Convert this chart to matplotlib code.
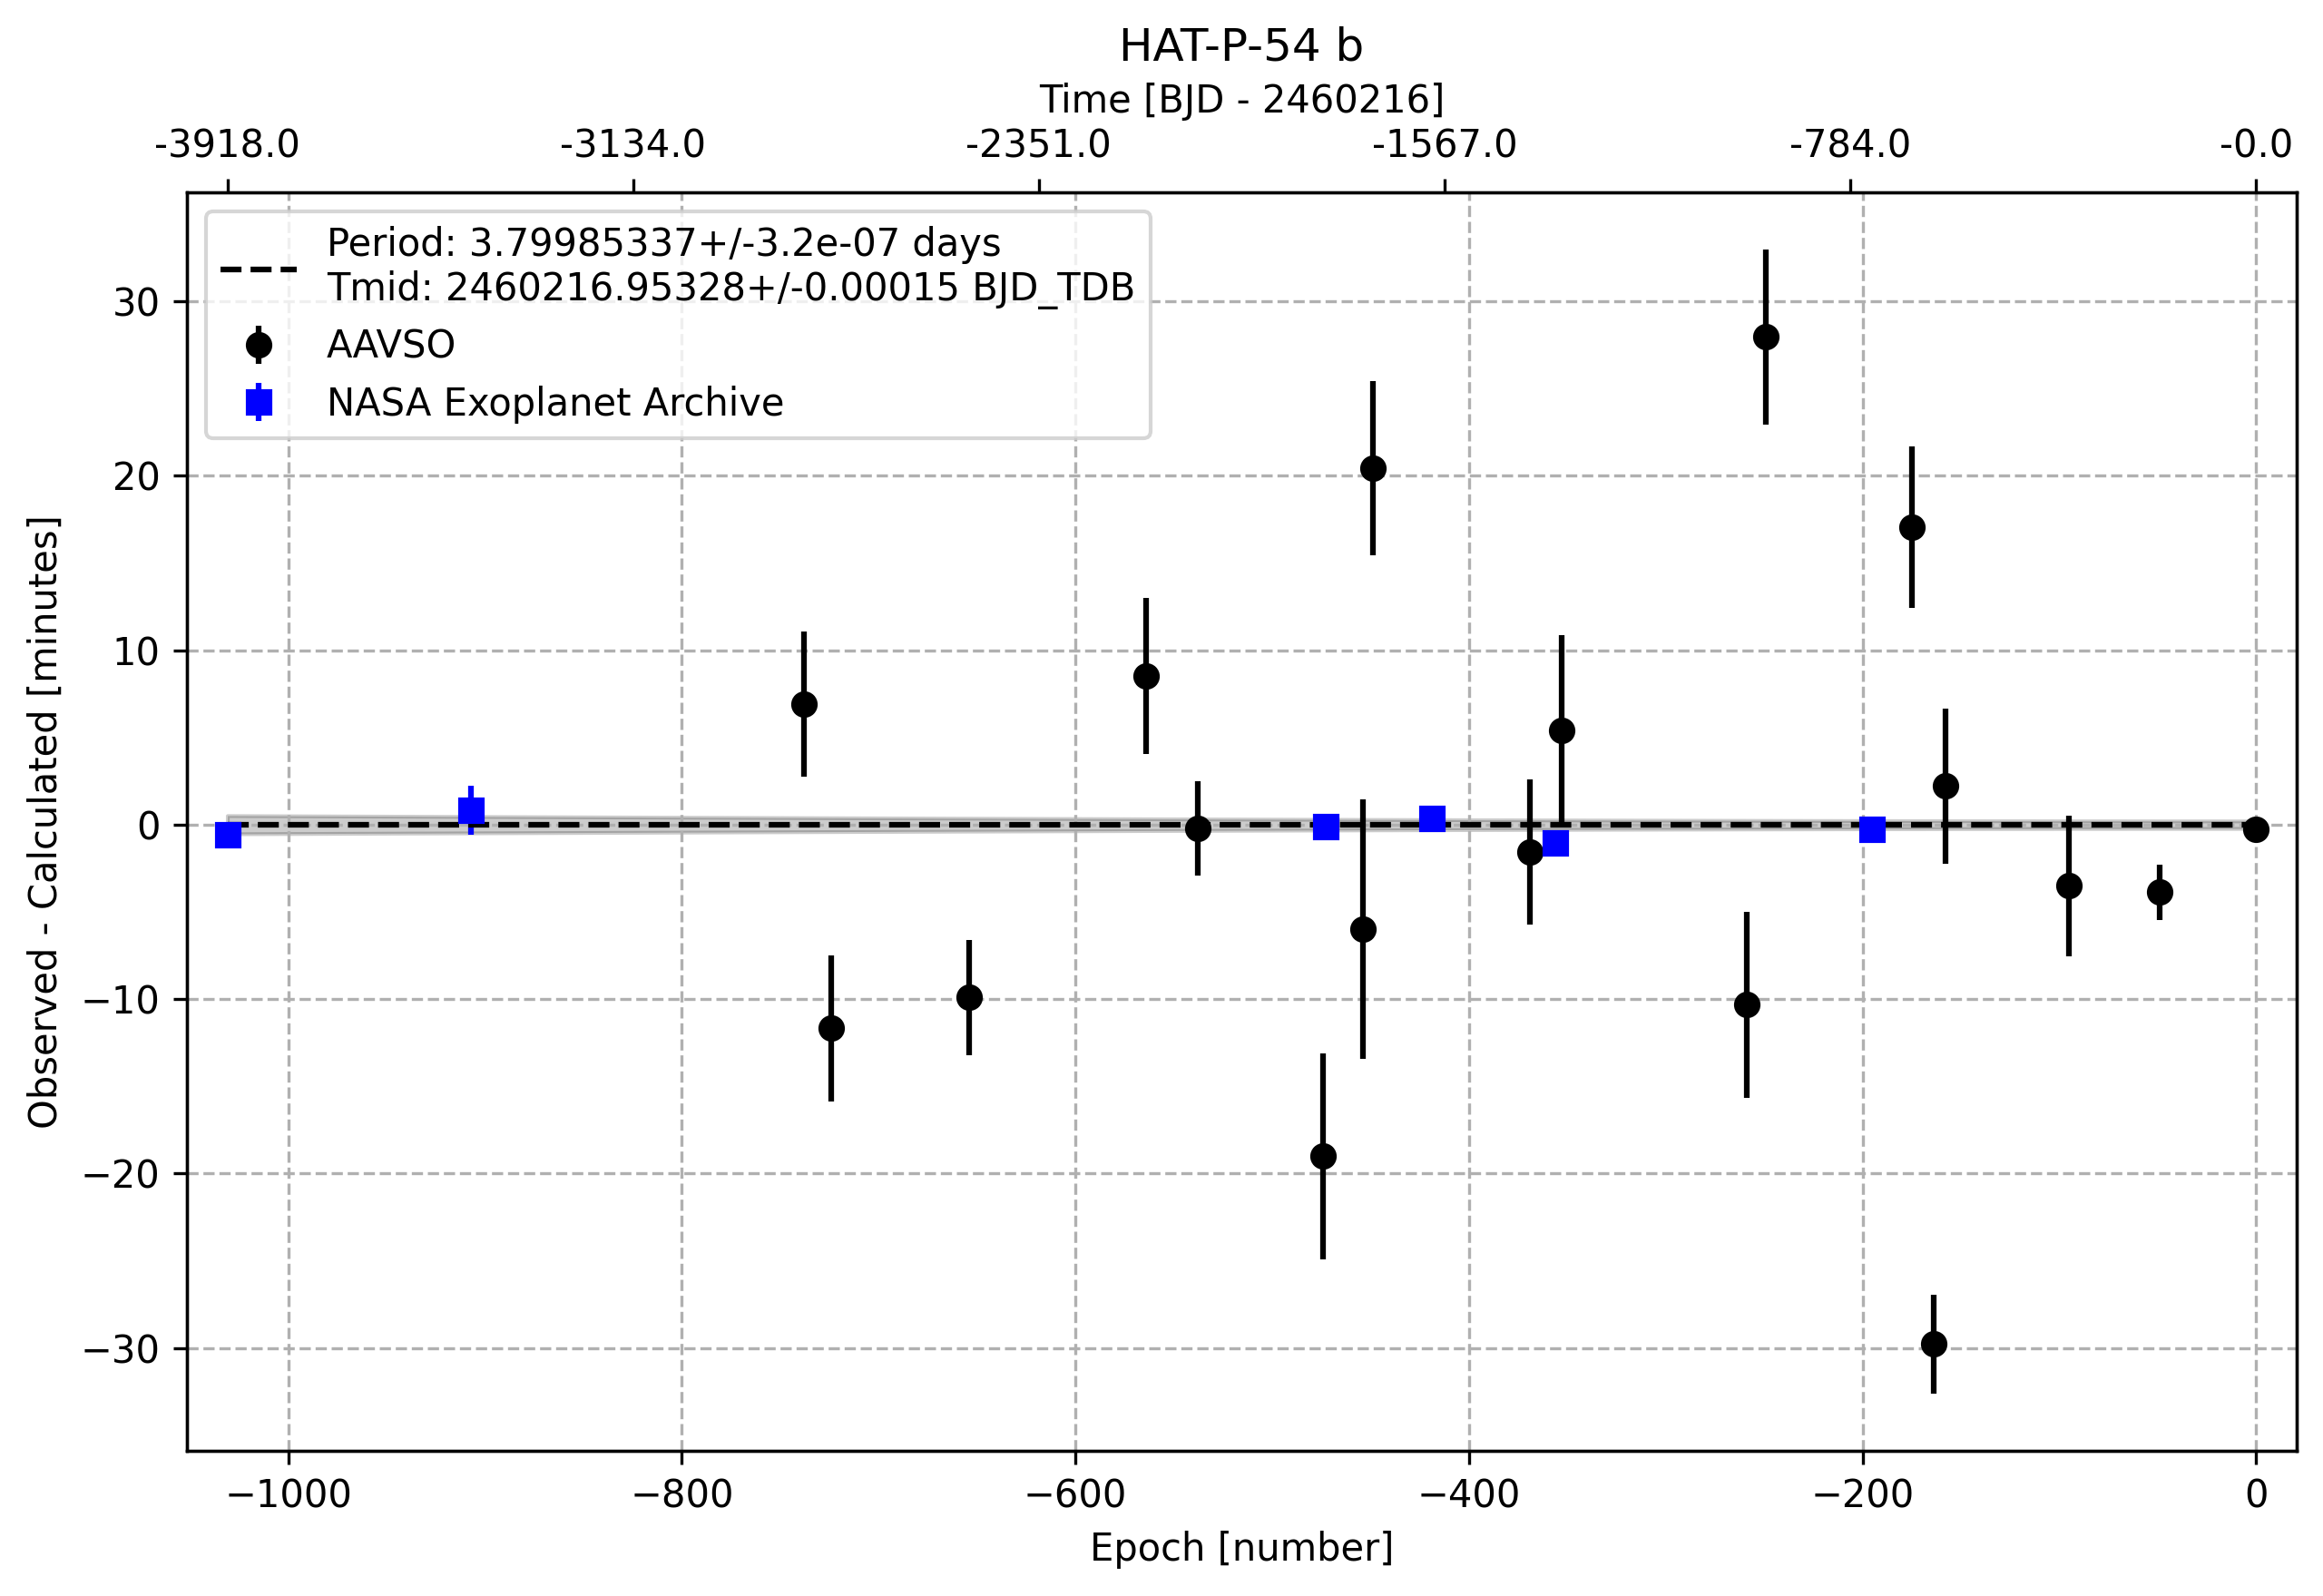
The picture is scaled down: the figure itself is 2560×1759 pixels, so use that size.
import numpy as np
import matplotlib
matplotlib.use("Agg")
import matplotlib.pyplot as plt

# fit results (days)
period = 3.79985337
period_err = 3.2e-07
tmid = 2460216.95328
tmid_err = 0.00015

# AAVSO observations: epoch, O-C [min], error [min]
aavso_epoch = np.array([-738, -724, -654, -564, -538, -474, -454, -449, -369,
                        -353, -259, -249, -175, -164, -158, -95, -49, 0])
aavso_oc = np.array([6.92, -11.68, -9.90, 8.52, -0.22, -19.00, -6.00, 20.43,
                     -1.56, 5.40, -10.31, 27.96, 17.07, -29.78, 2.21, -3.51,
                     -3.87, -0.28])
aavso_err = np.array([4.18, 4.18, 3.31, 4.47, 2.72, 5.90, 7.45, 5.00, 4.15,
                      5.45, 5.33, 5.00, 4.63, 2.85, 4.45, 4.03, 1.58, 0.40])

# NASA Exoplanet Archive
nasa_epoch = np.array([-1031, -907, -473, -419, -356, -195])
nasa_oc = np.array([-0.56, 0.82, -0.09, 0.37, -1.05, -0.27])
nasa_err = np.array([0.35, 1.40, 0.35, 0.35, 0.35, 0.35])

top_ticklabels = ["-3918.0", "-3134.0", "-2351.0", "-1567.0", "-784.0", "-0.0"]

epochs = np.sort(np.concatenate([aavso_epoch, nasa_epoch]))
# 1 sigma model uncertainty in minutes
sig = np.sqrt(tmid_err**2 + (period_err * epochs)**2) * 24 * 60

fig = plt.figure(figsize=(2560 / 300, 1759 / 300), dpi=300)
ax = fig.add_subplot(111)
fig.subplots_adjust(left=0.0804, right=0.9887, bottom=0.0910, top=0.8795)

ax.fill_between(epochs, -sig, sig, color="k", alpha=0.2, lw=1)
ax.errorbar(aavso_epoch, aavso_oc, yerr=aavso_err, fmt="ko", label="AAVSO")
ax.errorbar(nasa_epoch, nasa_oc, yerr=nasa_err, fmt="bs",
            label="NASA Exoplanet Archive")
ax.plot(epochs, np.zeros(len(epochs)), "k--",
        label=f"Period: {period}+/-{period_err:.1e} days\n"
              f"Tmid: {tmid}+/-{tmid_err} BJD_TDB")

span = epochs.max() - epochs.min()
ax.set_xlim(epochs.min() - 0.02 * span, epochs.max() + 0.02 * span)
lo = min((aavso_oc - aavso_err).min(), (nasa_oc - nasa_err).min())
hi = max((aavso_oc + aavso_err).max(), (nasa_oc + nasa_err).max())
ax.set_ylim(lo * 1.1, hi * 1.1)

ax.set_xlabel("Epoch [number]")
ax.set_ylabel("Observed - Calculated [minutes]")
ax.grid(True, ls="--")
ax.legend(loc="upper left")

ax2 = ax.twiny()
ax2.set_xlim(ax.get_xlim())
ax2.set_xticks(np.linspace(epochs.min(), epochs.max(), 6))
ax2.set_xticklabels(top_ticklabels)
ax2.set_xlabel(f"Time [BJD - {int(tmid)}]")
ax.set_title("HAT-P-54 b")

fig.savefig("out.png", dpi=300)
